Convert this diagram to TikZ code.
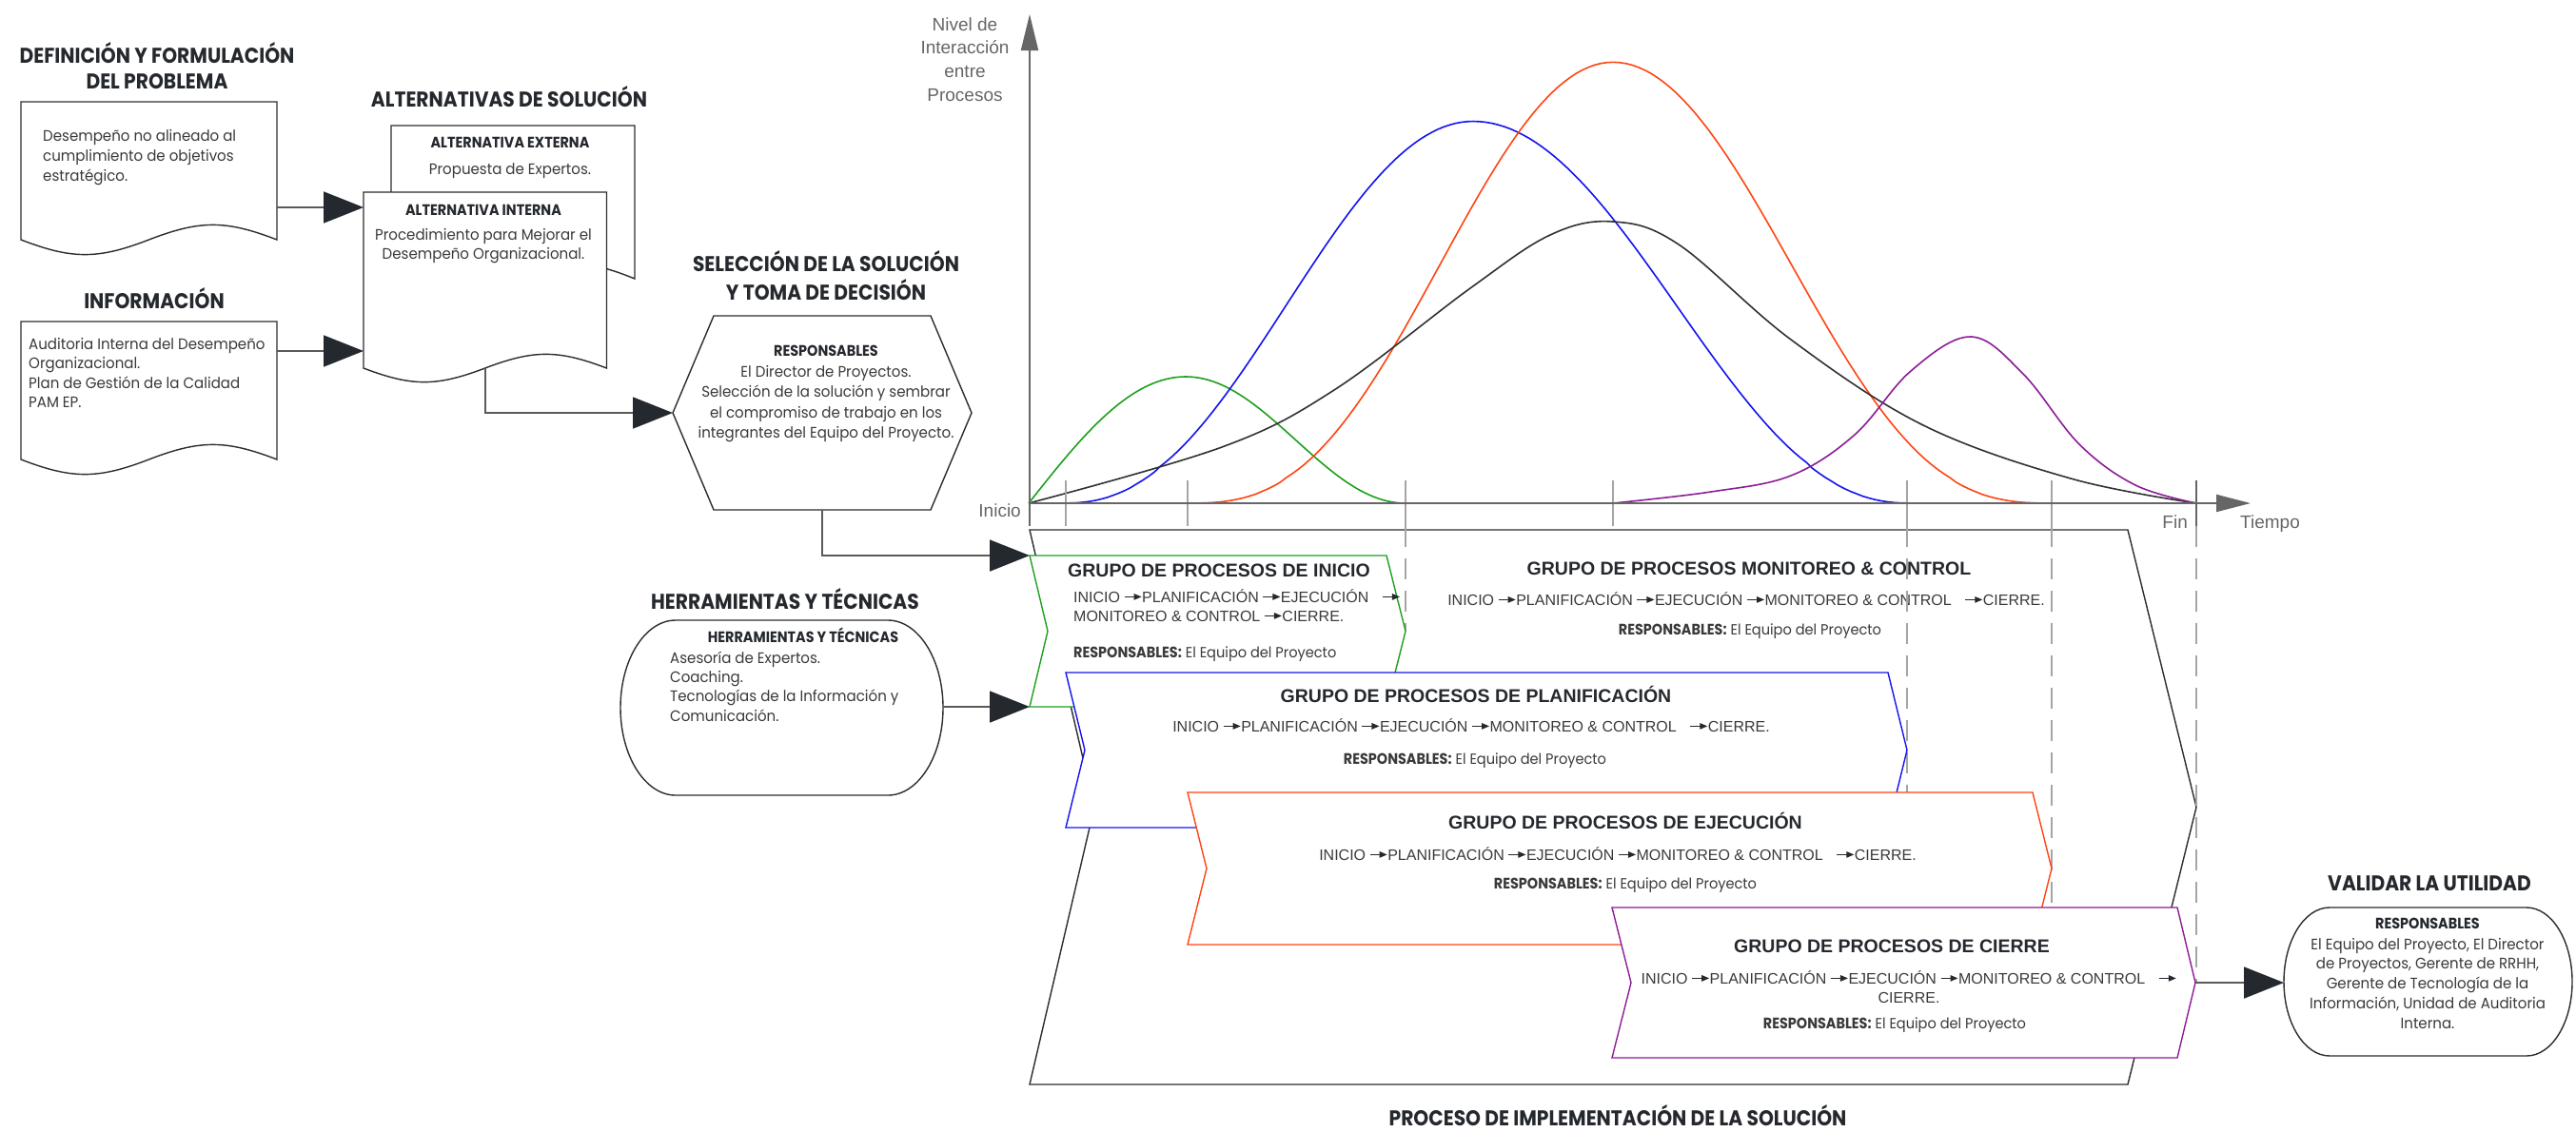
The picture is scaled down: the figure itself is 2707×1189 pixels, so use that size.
\documentclass[tikz,border=0pt]{standalone}
\usepackage{fontspec}
\setmainfont{Poppins}
\newfontfamily\hd{Poppins}[FakeStretch=0.9]
\newfontfamily\bd{Poppins}[FakeStretch=0.94]
\newfontfamily\ar{Liberation Sans}
\usetikzlibrary{arrows.meta,calc}

\definecolor{ink}{RGB}{37,41,46}
\definecolor{txt}{RGB}{58,58,58}
\definecolor{axisgray}{RGB}{102,102,102}
\definecolor{tickgray}{RGB}{165,165,165}
\definecolor{docline}{RGB}{45,45,45}
\definecolor{lineg}{RGB}{90,90,90}
\definecolor{arrowdark}{RGB}{36,41,47}
\definecolor{gGreen}{RGB}{30,160,30}
\definecolor{gBlue}{RGB}{20,20,240}
\definecolor{gOrange}{RGB}{255,69,20}
\definecolor{gPurple}{RGB}{140,30,150}
\definecolor{gBlack}{RGB}{50,50,50}

\newcommand{\fs}[2]{\fontsize{#1}{#2}\selectfont}
\newcommand{\tl}{\rule{0pt}{1em}}
% small arrow used inside the process-flow lines
\newcommand{\farr}{\hspace{4pt}\tikz[baseline=0pt]\draw[ink,line width=1.1pt,-{Triangle[length=8pt,width=6.5pt]}] (0pt,5.6pt) -- (18pt,5.6pt);}

% document symbol with a wavy lower edge
\newcommand{\docoutline}[3]{%
 \draw[#3] (#1.north west) -- (#1.north east) -- (#1.south east)
  .. controls ($(#1.south east)!0.2!(#1.south west)+(0,-#2*1.3)$) and ($(#1.south east)!0.3!(#1.south west)+(0,-#2*1.3)$) .. ($(#1.south east)!0.5!(#1.south west)$)
  .. controls ($(#1.south east)!0.7!(#1.south west)+(0,#2*1.3)$) and ($(#1.south east)!0.8!(#1.south west)+(0,#2*1.3)$) .. (#1.south west) -- cycle;}
% chevron: notch on the left, point on the right
\newcommand{\chevron}[4]{%
 \draw[#4] (#1.north west) -- (#1.north east) -- ($(#1.east)+(#3,0)$) -- (#1.south east) -- (#1.south west) -- ($(#1.west)+(#2,0)$) -- cycle;}
% terminator with elliptical ends
\newcommand{\stadium}[4]{%
 \draw[#4] ($(#1.north west)+(#2,0)$) -- ($(#1.north east)+(-#2,0)$) arc[start angle=90,end angle=-90,x radius=#2pt,y radius=#3pt] -- ($(#1.south west)+(#2,0)$) arc[start angle=270,end angle=90,x radius=#2pt,y radius=#3pt] -- cycle;}

\tikzset{
 bx/.style={rectangle, draw=none, inner sep=0pt, outer sep=0pt},
 ttl/.style={inner sep=0pt, text=ink, font=\hd\bfseries\fs{22.5}{27}},
 bdy/.style={inner sep=0pt, text=txt, font=\bd\fs{16}{21}},
 bdyb/.style={inner sep=0pt, text=ink, font=\hd\bfseries\fs{16}{21}},
 gttl/.style={inner sep=0pt, text=ink, font=\ar\bfseries\fs{19.5}{24}},
 gflow/.style={inner sep=0pt, text=txt, font=\ar\fs{16}{20}},
 gresp/.style={inner sep=0pt, text=txt, font=\bd\fs{15.5}{20}},
 clbl/.style={inner sep=0pt, text=axisgray, font=\ar\fs{19}{24.7}},
 outl/.style={draw=docline, line width=1.4pt, fill=white, line join=miter},
 conn/.style={draw=lineg, line width=1.8pt, -{Triangle[length=42pt,width=33pt,color=arrowdark]}},
 axl/.style={draw=axisgray, line width=2pt},
 tck/.style={draw=tickgray, line width=1.4pt},
 dsh/.style={draw=tickgray, line width=1.4pt, dash pattern=on 22pt off 12pt},
 crv/.style={line width=1.6pt},
}

\begin{document}
\begin{tikzpicture}[x=1pt,y=-1pt]
\fill[white] (0,0) rectangle (2707,1189);
\path[use as bounding box] (0,0) rectangle (2707,1189);

% ---------------- interaction curves ----------------
% initiating: sine rise, cosine fall
\draw[crv,gGreen] plot[domain=1081:1246,samples=40] (\x,{529-133*sin(90*((\x-1081)/165))})
  -- plot[domain=1246:1477,samples=50] (\x,{529-133*(1+cos(180*((\x-1246)/231)))/2});
% planning
\draw[crv,gBlue] plot[domain=1120:1548,samples=70] (\x,{529-401*((1+cos(180*((1548-\x)/428)))/2+0.001)^1.15})
  -- plot[domain=1548:2004,samples=70] (\x,{529-401*((1+cos(180*((\x-1548)/456)))/2+0.001)^1.1});
% executing
\draw[crv,gOrange] plot[domain=1248:1695,samples=70] (\x,{529-463*((1+cos(180*((1695-\x)/447)))/2+0.001)^1.4})
  -- plot[domain=1695:2156,samples=70] (\x,{529-463*((1+cos(180*((\x-1695)/461)))/2+0.001)^1.4});
% monitoring & controlling
\draw[crv,gBlack] plot[smooth,tension=0.6] coordinates {(1081,529) (1284,470) (1402,410) (1545,303) (1629,247) (1695,233) (1764,257) (1882,357) (2021,447) (2176,503) (2308,529)};
% closing
\draw[crv,gPurple] plot[smooth,tension=0.6] coordinates {(1695,529) (1798,517) (1882,500) (1949,457) (2008,390) (2071,354) (2126,393) (2185,467) (2244,510) (2308,529)};

% ticks and axes
\foreach \t in {1120,1248,1477,1695,2004,2156} \draw[tck] (\t,505) -- (\t,553);
\draw[tck,draw=axisgray] (2308,505) -- (2308,553);
\draw[axl,-{Triangle[length=38pt,width=18pt]}] (1082,553) -- (1082,15);
\draw[axl,-{Triangle[length=36pt,width=18pt]}] (1082,529) -- (2365,529);

\node[clbl,anchor=north,align=center] (ylab) at (1014,12.8) {\tl Nivel de\\Interacción\\entre\\Procesos};
\node[clbl,anchor=base east] (inicio) at (1073,543) {Inicio};
\node[clbl,anchor=base east] (fin) at (2299,555) {Fin};
\node[clbl,anchor=base west] (tiempo) at (2354,555) {Tiempo};

% ---------------- implementation container ----------------
\node[bx,minimum width=1154pt,minimum height=583pt,anchor=north west] (cont) at (1082,557) {};
\chevron{cont}{68}{72}{outl}
\node[gttl,anchor=base] (monH) at (1838,604) {GRUPO DE PROCESOS MONITOREO \& CONTROL};
\node[gflow,anchor=base] (monF) at (1835,636) {INICIO\farr PLANIFICACIÓN\farr EJECUCIÓN\farr MONITOREO \& CONTROL\hspace{10pt}\farr CIERRE.};
\node[gresp,anchor=base] (monR) at (1839,667) {{\hd\bfseries\fs{16}{20}RESPONSABLES:}\ El Equipo del Proyecto};

% time markers running down into the process groups
\draw[dsh] (1477,553) -- (1477,663);
\draw[dsh] (2004,553) -- (2004,833);
\draw[dsh] (2156,553) -- (2156,954);
\draw[dsh] (2308,553) -- (2308,1033);

% ---------------- process groups ----------------
\node[bx,minimum width=375pt,minimum height=159pt,anchor=north west] (ini) at (1082,584) {};
\chevron{ini}{19}{20}{outl,draw=gGreen}
\node[gttl,anchor=base west] (iniH) at (1122,606) {GRUPO DE PROCESOS DE INICIO};
\node[gflow,anchor=north west,align=left] (iniF) at (1128,616.8) {\tl INICIO\farr PLANIFICACIÓN\farr EJECUCIÓN\hspace{10pt}\farr\\MONITOREO \& CONTROL\farr CIERRE.};
\node[gresp,anchor=base west] (iniR) at (1128,691) {{\hd\bfseries\fs{16}{20}RESPONSABLES:}\ El Equipo del Proyecto};

\node[bx,minimum width=864pt,minimum height=163pt,anchor=north west] (pla) at (1120,707) {};
\chevron{pla}{20}{20}{outl,draw=gBlue}
\node[gttl,anchor=base] (plaH) at (1551,738) {GRUPO DE PROCESOS DE PLANIFICACIÓN};
\node[gflow,anchor=base] (plaF) at (1546,769) {INICIO\farr PLANIFICACIÓN\farr EJECUCIÓN\farr MONITOREO \& CONTROL\hspace{10pt}\farr CIERRE.};
\node[gresp,anchor=base] (plaR) at (1550,803) {{\hd\bfseries\fs{16}{20}RESPONSABLES:}\ El Equipo del Proyecto};

\node[bx,minimum width=888pt,minimum height=160pt,anchor=north west] (eje) at (1248,833) {};
\chevron{eje}{20}{20}{outl,draw=gOrange}
\node[gttl,anchor=base] (ejeH) at (1708,871) {GRUPO DE PROCESOS DE EJECUCIÓN};
\node[gflow,anchor=base] (ejeF) at (1700,904) {INICIO\farr PLANIFICACIÓN\farr EJECUCIÓN\farr MONITOREO \& CONTROL\hspace{10pt}\farr CIERRE.};
\node[gresp,anchor=base] (ejeR) at (1708,934) {{\hd\bfseries\fs{16}{20}RESPONSABLES:}\ El Equipo del Proyecto};

\node[bx,minimum width=594pt,minimum height=158pt,anchor=north west] (cie) at (1694,954) {};
\chevron{cie}{20}{19}{outl,draw=gPurple}
\node[gttl,anchor=base] (cieH) at (1988,1001) {GRUPO DE PROCESOS DE CIERRE};
\node[gflow,anchor=north,align=center] (cieF) at (2006,1017.8) {\tl INICIO\farr PLANIFICACIÓN\farr EJECUCIÓN\farr MONITOREO \& CONTROL\hspace{10pt}\farr\\CIERRE.};
\node[gresp,anchor=base] (cieR) at (1991,1081) {{\hd\bfseries\fs{16}{20}RESPONSABLES:}\ El Equipo del Proyecto};
\coordinate (cieTip) at ($(cie.east)+(19,0)$);

\node[ttl,anchor=base] (implH) at (1700,1183) {PROCESO DE IMPLEMENTACIÓN DE LA SOLUCIÓN};

% ---------------- problem definition and information ----------------
\node[ttl,anchor=north,align=center] (probH) at (165,43.4) {\tl DEFINICIÓN Y FORMULACIÓN\\DEL PROBLEMA};
\node[bx,minimum width=269pt,minimum height=145pt,anchor=north west] (prob) at (22,107) {};
\docoutline{prob}{16}{outl}
\node[bdy,anchor=north west,align=left] (probT) at (45,132) {\tl Desempeño no alineado al\\cumplimiento de objetivos\\estratégico.};

\node[ttl,anchor=base] (infoH) at (162,324.9) {INFORMACIÓN};
\node[bx,minimum width=269pt,minimum height=145pt,anchor=north west] (info) at (22,338) {};
\docoutline{info}{16}{outl}
\node[bdy,anchor=north west,align=left,font=\bd\fs{16}{20.5}] (infoT) at (30,351) {\tl Auditoria Interna del Desempeño\\Organizacional.\\Plan de Gestión de la Calidad\\PAM EP.};

% ---------------- solution alternatives ----------------
\node[ttl,anchor=base] (altH) at (535,112.9) {ALTERNATIVAS DE SOLUCIÓN};
\node[bx,minimum width=256pt,minimum height=161pt,anchor=north west] (aext) at (411,132) {};
\docoutline{aext}{16}{outl}
\node[bdyb,anchor=base] (aextH) at (536,155.6) {ALTERNATIVA EXTERNA};
\node[bdy,anchor=base] (aextT) at (536,183) {Propuesta de Expertos.};

\node[bx,minimum width=255.5pt,minimum height=185pt,anchor=north west] (aint) at (382,202) {};
\docoutline{aint}{15}{outl}
\node[bdyb,anchor=base] (aintH) at (508,226.6) {ALTERNATIVA INTERNA};
\node[bdy,anchor=north,align=center,font=\bd\fs{16}{20}] (aintT) at (508,236) {\tl Procedimiento para Mejorar el\\Desempeño Organizacional.};

% ---------------- selection and decision ----------------
\node[ttl,anchor=north,align=center,font=\hd\bfseries\fs{22.5}{30}] (selH) at (868,262.4) {\tl SELECCIÓN DE LA SOLUCIÓN\\Y TOMA DE DECISIÓN};
\node[bx,minimum width=314pt,minimum height=204pt,anchor=north west] (sel) at (707,332) {};
\draw[outl] (sel.west) -- ($(sel.north west)+(43,0)$) -- ($(sel.north east)+(-43,0)$) -- (sel.east) -- ($(sel.south east)+(-43,0)$) -- ($(sel.south west)+(43,0)$) -- cycle;
\node[bdy,anchor=north,align=center,font=\bd\fs{16}{21.5}] (selT) at (868,358.3) {\tl{\hd\bfseries\color{ink}RESPONSABLES}\\El Director de Proyectos.\\Selección de la solución y sembrar\\el compromiso de trabajo en los\\integrantes del Equipo del Proyecto.};

% ---------------- tools and techniques ----------------
\node[ttl,anchor=base] (herrH) at (825,640.9) {HERRAMIENTAS Y TÉCNICAS};
\node[bx,minimum width=339pt,minimum height=184pt,anchor=north west] (herr) at (652,652) {};
\stadium{herr}{58}{92}{outl}
\node[bdyb,anchor=base] (herrS) at (844,675.6) {HERRAMIENTAS Y TÉCNICAS};
\node[bdy,anchor=north west,align=left,font=\bd\fs{16}{20.3}] (herrT) at (704,681) {\tl Asesoría de Expertos.\\Coaching.\\Tecnologías de la Información y\\Comunicación.};

% ---------------- validation ----------------
\node[ttl,anchor=base] (valH) at (2553,936.9) {VALIDAR LA UTILIDAD};
\node[bx,minimum width=303pt,minimum height=156pt,anchor=north west] (val) at (2400,954) {};
\stadium{val}{48}{78}{outl}
\node[bdyb,anchor=base] (valS) at (2551,976.6) {RESPONSABLES};
\node[bdy,anchor=north,align=center,font=\bd\fs{16}{20.75}] (valT) at (2551,982) {\tl El Equipo del Proyecto, El Director\\de Proyectos, Gerente de RRHH,\\Gerente de Tecnología de la\\Información, Unidad de Auditoria\\Interna.};

% ---------------- connectors ----------------
\draw[conn] (prob.east |- 0,218) -- (aint.west |- 0,218);
\draw[conn] (info.east |- 0,369) -- (aint.west |- 0,369);
\draw[conn] (aint.south) |- (sel.west);
\draw[conn] (sel.south) |- (ini.north west);
\draw[conn] (herr.east |- ini.south west) -- (ini.south west);
\draw[conn] (cieTip) -- (cieTip -| val.west);

\end{tikzpicture}
\end{document}
